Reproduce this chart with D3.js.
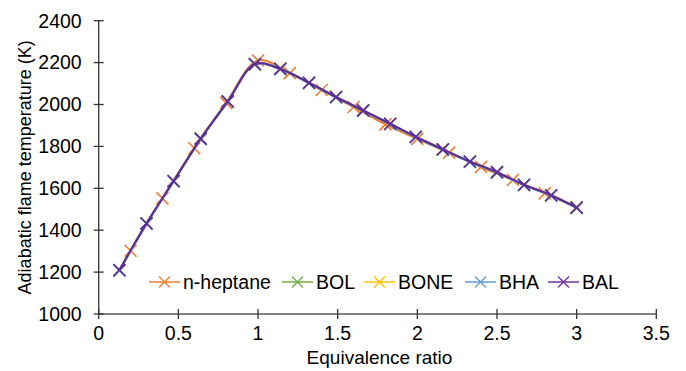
<!DOCTYPE html>
<html>
<head>
<meta charset="utf-8">
<script src="https://cdn.jsdelivr.net/npm/d3@7"></script>
<style>
  body{margin:0;background:#fff;}
  svg text{font-family:"Liberation Sans",Arial,sans-serif;fill:#000;}
</style>
</head>
<body>
<svg id="chart" width="686" height="371"></svg>
<script>
// data
const seriesNames=["n-heptane","BOL","BONE","BHA","BAL"];
const colors=["#ED7D31","#70AD47","#FFC000","#5B9BD5","#7030A0"];

const phiHeptane=[0.2,0.4,0.6,0.8,1.0,1.2,1.4,1.6,1.8,2.0,2.2,2.4,2.6,2.8,3.0];
const tHeptane=[1302,1552,1791,2008,2210,2150,2069,1988,1905,1836,1770,1702,1640,1576,1510];

const phiBio=[0.13,0.3,0.47,0.64,0.81,0.98,1.14,1.32,1.49,1.66,1.83,1.99,2.16,2.33,2.5,2.67,2.84,3.0];
const tBOL=[1208,1431,1634,1836,2014,2192,2172,2103,2035,1971,1907,1845,1785,1727,1676,1616,1566,1507];
const tBONE=[1209,1432,1635,1837,2015,2193,2171,2104,2036,1972,1908,1846,1786,1728,1677,1617,1567,1508];
const tBHA=[1207,1430,1633,1835,2013,2191,2169,2102,2034,1970,1906,1844,1784,1726,1675,1615,1565,1506];
const tBAL=[1210,1433,1635,1837,2015,2193,2170,2104,2036,1972,1908,1846,1786,1728,1677,1617,1567,1508];

const xTicks=[0,0.5,1,1.5,2,2.5,3,3.5];
const yTicks=[1000,1200,1400,1600,1800,2000,2200,2400];

const series=[
  {name:seriesNames[0],xs:phiHeptane,ys:tHeptane},
  {name:seriesNames[1],xs:phiBio,ys:tBOL},
  {name:seriesNames[2],xs:phiBio,ys:tBONE},
  {name:seriesNames[3],xs:phiBio,ys:tBHA},
  {name:seriesNames[4],xs:phiBio,ys:tBAL}
].map((s,i)=>({...s,color:colors[i],pts:s.xs.map((x,j)=>[x,s.ys[j]])}));

const svg=d3.select("#chart");
const x=d3.scaleLinear().domain([0,3.5]).range([98.7,656.3]);
const y=d3.scaleLinear().domain([1000,2400]).range([314,20.7]);

// axes (Excel style: crossing ticks)
const xAxis=svg.append("g").attr("transform",`translate(0,${y(1000)})`);
xAxis.append("line").attr("x1",x(0)).attr("x2",x(3.5)).attr("stroke","#595959").attr("stroke-width",1.3);
xAxis.selectAll("line.t").data(xTicks).join("line").attr("class","t")
  .attr("x1",d=>x(d)).attr("x2",d=>x(d)).attr("y1",-5).attr("y2",5)
  .attr("stroke","#333").attr("stroke-width",1.3);
xAxis.selectAll("text").data(xTicks).join("text")
  .attr("x",d=>x(d)).attr("y",26).attr("text-anchor","middle").attr("font-size","19.5px")
  .text(d=>d);

const yAxis=svg.append("g").attr("transform",`translate(${x(0)},0)`);
yAxis.append("line").attr("y1",y(1000)).attr("y2",y(2400)).attr("stroke","#333").attr("stroke-width",1.3);
yAxis.selectAll("line.t").data(yTicks).join("line").attr("class","t")
  .attr("y1",d=>y(d)).attr("y2",d=>y(d)).attr("x1",-5).attr("x2",5)
  .attr("stroke","#333").attr("stroke-width",1.3);
yAxis.selectAll("text").data(yTicks).join("text")
  .attr("x",-17).attr("y",d=>y(d)).attr("dy","0.35em").attr("text-anchor","end").attr("font-size","19.5px")
  .text(d=>d);

svg.append("text").attr("x",(x(0)+x(3.5))/2+2).attr("y",364).attr("text-anchor","middle")
  .attr("font-size","19px").text("Equivalence ratio");
svg.append("text").attr("transform",`translate(31,${(y(1000)+y(2400))/2}) rotate(-90)`)
  .attr("text-anchor","middle").attr("font-size","18px").text("Adiabatic flame temperature (K)");

// lines + markers
const line=d3.line().x(d=>x(d[0])).y(d=>y(d[1])).curve(d3.curveCatmullRom);
const cross=(g,s,r,w)=>{
  g.selectAll("path.m").data(s.pts).join("path").attr("class","m")
    .attr("d",d=>{const cx=x(d[0]),cy=y(d[1]);
      return `M${cx-r},${cy-r}L${cx+r},${cy+r}M${cx-r},${cy+r}L${cx+r},${cy-r}`;})
    .attr("stroke",s.color).attr("stroke-width",w).attr("fill","none");
};
series.forEach((s,i)=>{
  const g=svg.append("g");
  const c=i===4?"#5e2c98":s.color;
  g.append("path").attr("d",line(s.pts)).attr("fill","none").attr("stroke",c).attr("stroke-width",2.1);
  cross(g,{...s,color:c},6,1.6);
});

// legend
const legX=[149,282,364,465,548];
const leg=svg.append("g");
series.forEach((s,i)=>{
  const g=leg.append("g").attr("transform",`translate(${legX[i]},282)`);
  g.append("line").attr("x1",0).attr("x2",31).attr("stroke",s.color).attr("stroke-width",1.5);
  g.append("path").attr("d","M10,-5.5L21,5.5M10,5.5L21,-5.5").attr("stroke",s.color).attr("stroke-width",1.3).attr("fill","none");
  g.append("text").attr("x",34).attr("dy","0.35em").attr("font-size","19.5px").text(s.name);
});
</script>
</body>
</html>
